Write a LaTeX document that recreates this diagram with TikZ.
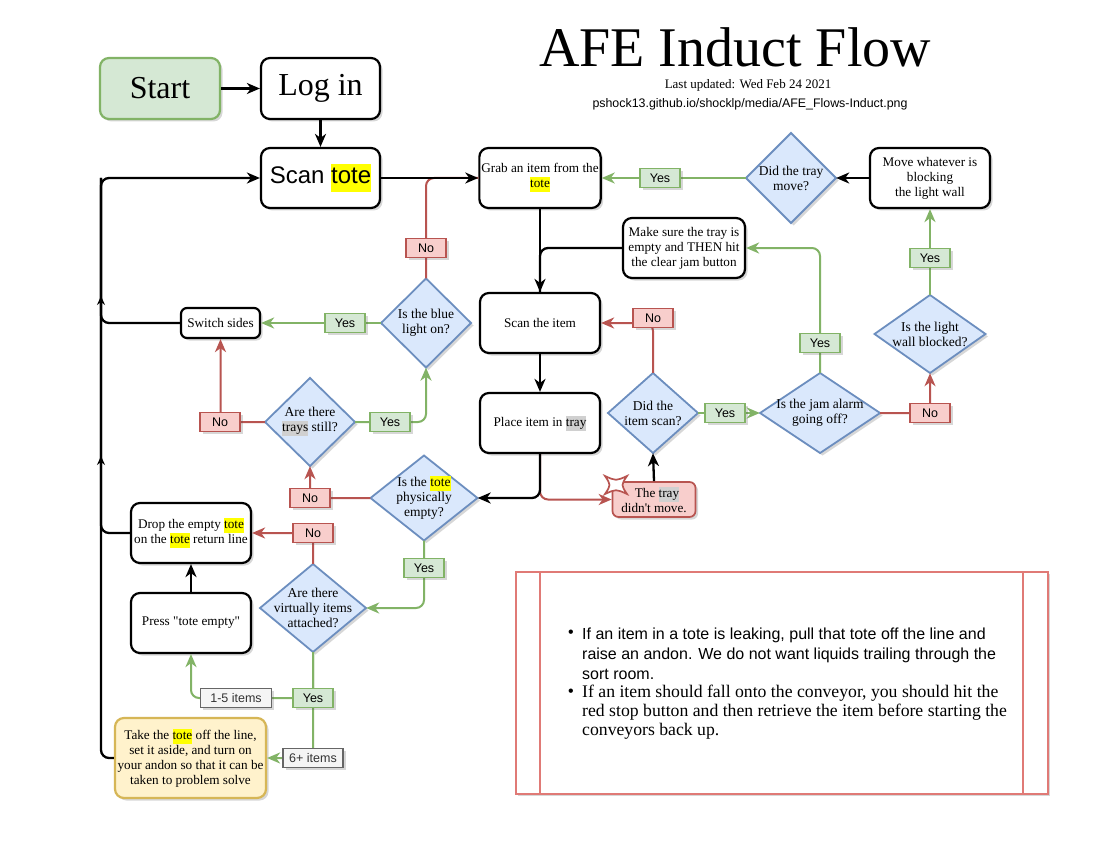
\documentclass[tikz,border=0pt]{standalone}
\usepackage{fontspec}
\setmainfont{Liberation Serif}[Ligatures=TeXOff]
\setsansfont{Liberation Sans}
\usetikzlibrary{arrows.meta,shadows}
\definecolor{gfill}{HTML}{D5E8D4}
\definecolor{gline}{HTML}{82B366}
\definecolor{rfill}{HTML}{F8CECC}
\definecolor{rline}{HTML}{B85450}
\definecolor{bfill}{HTML}{DAE8FC}
\definecolor{bline}{HTML}{6C8EBF}
\definecolor{yfill}{HTML}{FFF2CC}
\definecolor{yline}{HTML}{D6B656}
\definecolor{grfill}{HTML}{F5F5F5}
\definecolor{grline}{HTML}{666666}
\definecolor{hlgray}{HTML}{D0D0D0}
\definecolor{hlyel}{HTML}{FFFF00}
\definecolor{nline}{HTML}{E07A76}
\newcommand\hly[1]{{\setlength{\fboxsep}{0pt}\colorbox{hlyel}{\strut#1}}}
\newcommand\hlg[1]{{\setlength{\fboxsep}{0pt}\colorbox{hlgray}{\strut#1}}}
\newcommand\diam[6]{%
  \path[diashape] (#2-#4/2,#3) -- (#2,#3-#5/2) -- (#2+#4/2,#3) -- (#2,#3+#5/2) -- cycle;
  \node[diatext,minimum width=#4pt,minimum height=#5pt] (#1) at (#2,#3) {#6};}
\begin{document}
\begin{tikzpicture}[x=1pt,y=-1pt,
  shad/.style={drop shadow={shadow xshift=2.5pt,shadow yshift=-2.5pt,opacity=0.22,fill=black!70}},
  box/.style={draw=black,line width=2.2pt,rounded corners=9pt,fill=white,align=center,
    font=\fontsize{13.2}{15}\selectfont,inner sep=2pt,shad},
  diashape/.style={fill=bfill,draw=bline,line width=1.8pt,shad},
  diatext/.style={align=center,inner sep=0pt,font=\fontsize{13.5}{15}\selectfont},
  lab/.style={font=\sffamily\fontsize{12.5}{14}\selectfont,minimum width=40pt,minimum height=19pt,
    inner sep=1pt,line width=1.7pt,shad},
  yeslab/.style={lab,fill=gfill,draw=gline},
  nolab/.style={lab,fill=rfill,draw=rline},
  grylab/.style={lab,fill=grfill,draw=grline,text=black!80},
  tip/.style={-{Stealth[length=13pt,width=11pt,inset=4pt]}},
  bl/.style={draw=black,line width=2.3pt,rounded corners=8pt},
  gl/.style={draw=gline,line width=2pt,rounded corners=8pt},
  rl/.style={draw=rline,line width=2pt,rounded corners=8pt},
  barr/.style={bl,tip}, garr/.style={gl,tip}, rarr/.style={rl,tip}
]
\useasboundingbox (0,0) rectangle (1111,861);
\fill[white] (0,0) rectangle (1111,861);

% title
\node[font=\fontsize{56}{60}\selectfont,anchor=base,text depth=0pt,inner sep=0pt] (title) at (735,67) {AFE Induct Flow};
\node[font=\fontsize{13}{15}\selectfont,inner sep=0pt] (upd) at (748,85) {Last updated: Wed Feb 24 2021};
\node[font=\sffamily\fontsize{12.4}{14}\selectfont] (url) at (750,104) {pshock13.github.io/shocklp/media/AFE\_Flows-Induct.png};

% boxes
\node[box,fill=gfill,draw=gline,minimum width=120pt,minimum height=61pt,font=\fontsize{32}{36}\selectfont] (start) at (160,88.5) {Start};
\node[box,minimum width=119pt,minimum height=61pt,font=\fontsize{32}{36}\selectfont] (login) at (320.5,88.5) {Log in};
\node[box,minimum width=119pt,minimum height=60pt,font=\sffamily\fontsize{24}{28}\selectfont] (scantote) at (320.5,178) {Scan \hly{tote}};
\node[box,minimum width=120pt,minimum height=60pt] (grab) at (540,178) {Grab an item from the\\\hly{tote}};
\node[box,minimum width=120pt,minimum height=60pt] (move) at (930,178) {Move whatever is\\blocking\\the light wall};
\node[box,minimum width=122pt,minimum height=60pt] (make) at (684,248) {Make sure the tray is\\empty and THEN hit\\the clear jam button};
\node[box,minimum width=120pt,minimum height=60pt] (scanitem) at (540,323) {Scan the item};
\node[box,minimum width=120pt,minimum height=60pt] (place) at (540,423) {Place item in \hlg{tray}};
\node[box,fill=rfill,draw=rline,line width=1.7pt,rounded corners=6pt,minimum width=83pt,minimum height=35pt] (tray) at (654,499.5) {\hspace*{6pt}The \hlg{tray}\\didn't move.};
\node[box,rounded corners=6pt,minimum width=79pt,minimum height=30pt] (switch) at (220.5,323) {Switch sides};
\node[box,minimum width=120pt,minimum height=60pt] (drop) at (191,533) {Drop the empty \hly{tote}\\on the \hly{tote} return line};
\node[box,minimum width=120pt,minimum height=60pt] (press) at (191,623) {Press "tote empty"};
\node[box,fill=yfill,draw=yline,minimum width=151pt,minimum height=80pt] (take) at (190.5,758) {Take the \hly{tote} off the line,\\set it aside, and turn on\\your andon so that it can be\\taken to problem solve};

% diamonds
\diam{dtm}{791}{178}{90}{90}{Did the tray\\move?}
\diam{dis}{653}{413}{90}{80}{Did the\\item scan?}
\diam{jam}{820}{413}{120}{80}{Is the jam alarm\\going off?}
\diam{lw}{930}{334}{111}{78}{Is the light\\wall blocked?}
\diam{blue}{426}{323}{90}{89}{Is the blue\\light on?}
\diam{ts}{310}{422}{90}{88}{Are there\\\hlg{trays} still?}
\diam{te}{424}{498}{107}{85}{Is the \hly{tote}\\physically\\empty?}
\diam{vd}{313}{608}{106}{88}{Are there\\virtually items\\attached?}

% starburst on tray box
\draw[rline,line width=1.7pt,fill=white] (605,476) .. controls (616,481) .. (627,476)
  .. controls (621,485) .. (627,494) .. controls (616,489) .. (605,494)
  .. controls (611,485) .. (605,476) -- cycle;

% note box
\node[draw=nline,line width=1.5pt,fill=white,shad,minimum width=532pt,minimum height=222pt,inner sep=0pt,anchor=north west] (note) at (515,571) {};
\draw[nline,line width=1.5pt] ([xshift=25pt]note.north west) -- ([xshift=25pt]note.south west);
\draw[nline,line width=1.5pt] ([xshift=-25.5pt]note.north east) -- ([xshift=-25.5pt]note.south east);
\node[font=\sffamily\fontsize{16}{20}\selectfont] (bu1) at (571,634) {•};
\node[font=\sffamily\fontsize{16}{20}\selectfont] (bu2) at (571,693) {•};
\node[anchor=west,align=left,inner sep=0pt,font=\sffamily\fontsize{16}{20}\selectfont] (t1) at (582,654)
  {If an item in a tote is leaking, pull that tote off the line and\\raise an andon. We do not want liquids trailing through the\\sort room.};
\node[anchor=west,align=left,inner sep=0pt,font=\fontsize{17.7}{19}\selectfont] (t2) at (582,712)
  {If an item should fall onto the conveyor, you should hit the\\red stop button and then retrieve the item before starting the\\conveyors back up.};

% connectors
\coordinate (lc) at (101,178);
\coordinate (j1) at (313,698);
\draw[barr] (start.east) -- (login.west);
\draw[barr] (login.south) -- (scantote.north);
\draw[rl] (blue.north) |- (grab.west);
\draw[barr] (scantote.east) -- (grab.west);
\draw[garr] (dtm.west) -- (grab.east);
\draw[barr] (move.west) -- (dtm.east);
\draw[garr] (lw.north) -- (move.south);
\draw[bl] (make.west) -| (scanitem.north);
\draw[barr] (grab.south) -- (scanitem.north);
\draw[garr] (jam.north) |- (make.east);
\draw[rarr] (jam.east) -| (lw.south);
\draw[garr] (dis.east) -- (jam.west);
\draw[rarr] (dis.north) |- (scanitem.east);
\draw[barr] (tray.north) -- (dis.south);
\draw[barr] (scanitem.south) -- (place.north);
\draw[rarr] (place.south) |- (tray.west);
\draw[barr] (place.south) |- (te.east);
\draw[garr] (blue.west) -- (switch.east);
\draw[garr] (ts.east) -| (blue.south);
\draw[rarr] (ts.west) -| (switch.south);
\draw[rarr] (te.west) -| (ts.south);
\draw[garr] (te.south) |- (vd.east);
\draw[rarr] (vd.north) |- (drop.east);
\draw[garr] (vd.south) -- (j1) -| (press.south);
\draw[garr] (vd.south) |- (take.east);
\draw[barr] (press.north) -- (drop.south);
\draw[bl] (switch.west) -| (lc);
\draw[bl] (drop.west) -| (lc);
\draw[barr] (take.west) -| (lc) -- (scantote.west);
\draw[black,line width=2pt,-{Stealth[length=9pt,width=8pt,inset=3pt]}] (101,306) -- (101,296);
\draw[black,line width=2pt,-{Stealth[length=9pt,width=8pt,inset=3pt]}] (101,466) -- (101,456);

% labels
\node[yeslab] (l1) at (660,178) {Yes};
\node[yeslab] (l2) at (930,258) {Yes};
\node[yeslab] (l3) at (820,343) {Yes};
\node[nolab] (l4) at (930,413) {No};
\node[yeslab] (l5) at (725,413) {Yes};
\node[nolab] (l6) at (653,318) {No};
\node[nolab] (l7) at (426,248) {No};
\node[yeslab] (l8) at (345,323) {Yes};
\node[yeslab] (l9) at (390,422) {Yes};
\node[nolab] (l10) at (220,422) {No};
\node[nolab] (l11) at (310,498) {No};
\node[yeslab] (l12) at (424,568) {Yes};
\node[nolab] (l13) at (313,533) {No};
\node[yeslab] (l14) at (313,698) {Yes};
\node[grylab,minimum width=71pt] (l15) at (236,698) {1-5 items};
\node[grylab,minimum width=60pt] (l16) at (313,758) {6+ items};
\end{tikzpicture}
\end{document}
